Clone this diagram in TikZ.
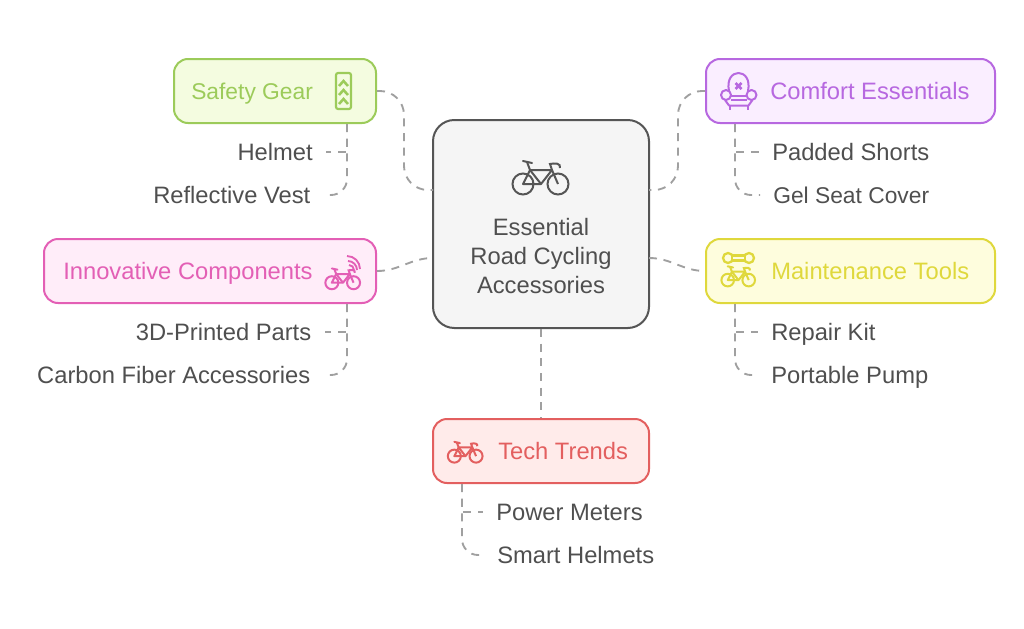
\documentclass[tikz,border=0pt]{standalone}
\usepackage{fontspec}
\setmainfont{Liberation Sans}
\usetikzlibrary{calc}

\definecolor{inktext}{HTML}{4F4F4F}
\definecolor{inkhub}{HTML}{555555}
\definecolor{linkgray}{HTML}{A0A0A0}
\definecolor{greenline}{HTML}{9CCB5A}
\definecolor{greenfill}{HTML}{F4FCE0}
\definecolor{purpleline}{HTML}{B768E0}
\definecolor{purplefill}{HTML}{FAEEFF}
\definecolor{pinkline}{HTML}{E35FB5}
\definecolor{pinkfill}{HTML}{FFEDF9}
\definecolor{yellowline}{HTML}{DFD83C}
\definecolor{yellowfill}{HTML}{FEFDDD}
\definecolor{redline}{HTML}{E35F5F}
\definecolor{redfill}{HTML}{FFEBEA}

\tikzset{
	x = 0.75pt, y = -0.75pt,
	txt/.style = {font = \fontsize{17.8}{21.4}\selectfont, text = inktext, inner sep = 0pt},
	oneline/.style = {txt, text height = 12.7pt, text depth = 0pt},
	leaf/.style = {oneline, inner xsep = 9.75pt, inner ysep = 0pt},
	tight/.style = {font = \fontsize{17.1}{21.4}\selectfont},
	box/.style = {draw, line width = 1.5pt, rounded corners = 10.5pt,
				  minimum height = 48pt, inner sep = 0pt},
	link/.style = {draw = linkgray, line width = 1.4pt, dash pattern = on 6pt off 5pt},
	bike/.pic = {
		\draw (-18,6) circle (10.5);
		\draw (17,6) circle (10.5);
		\draw[line join = round] (-18,6) -- (-11,-8) -- (11,-8) -- (0,6) -- cycle;
		\draw (-11,-8) -- (0,6);
		\draw (17,6) -- (11,-8) -- (9,-14) .. controls (14,-15) and (20,-15) .. (19,-10);
		\draw (-11,-8) -- (-14,-16);
		\draw[line cap = round] (-18,-17) -- (-9,-15);
	}
}

\begin{document}
\begin{tikzpicture}

	\useasboundingbox (0,0) rectangle (1024,628);

	\draw (541,224) node[box, draw = inkhub, fill = black!4,
					 minimum width = 162pt, minimum height = 156pt,
					 rounded corners = 16pt] (hub) {};
	\draw (541,256) node[txt, align = center] (hubtext)
			{Essential\\Road Cycling\\Accessories};
	\draw[inkhub, line width = 1.5pt] (541,178) pic {bike};

	\draw (275,91) node[box, draw = greenline, fill = greenfill,
					 minimum width = 151.5pt] (safety) {};
	\draw (191,91) node[oneline, tight, anchor = west, text = greenline] (safetytext) {Safety Gear};

	\draw (850.5,91) node[box, draw = purpleline, fill = purplefill,
					 minimum width = 216.75pt] (comfort) {};
	\draw (770,91) node[oneline, anchor = west, text = purpleline] (comforttext) {Comfort Essentials};

	\draw (210,271) node[box, draw = pinkline, fill = pinkfill,
					 minimum width = 249pt] (innovative) {};
	\draw (63,271) node[oneline, anchor = west, text = pinkline] (innovativetext) {Innovative Components};

	\draw (850.5,271) node[box, draw = yellowline, fill = yellowfill,
					 minimum width = 216.75pt] (maintenance) {};
	\draw (771,271) node[oneline, anchor = west, text = yellowline] (maintenancetext) {Maintenance Tools};

	\draw (541,451) node[box, draw = redline, fill = redfill,
					 minimum width = 162pt] (tech) {};
	\draw (498,451) node[oneline, anchor = west, text = redline] (techtext) {Tech Trends};

	% leaves
	\draw (326,152) node[leaf, anchor = east] (helmet) {Helmet};
	\draw (323.5,195) node[leaf, anchor = east] (vest) {Reflective Vest};
	\draw (759,152) node[leaf, anchor = west] (shorts) {Padded Shorts};
	\draw (760,195) node[leaf, tight, anchor = west] (seat) {Gel Seat Cover};
	\draw (324.5,332) node[leaf, anchor = east] (parts) {3D-Printed Parts};
	\draw (323.5,375) node[leaf, anchor = east] (carbon) {Carbon Fiber Accessories};
	\draw (758,332) node[leaf, anchor = west] (repair) {Repair Kit};
	\draw (758,375) node[leaf, anchor = west] (pump) {Portable Pump};
	\draw (483,512) node[leaf, anchor = west] (power) {Power Meters};
	\draw (484,555) node[leaf, anchor = west] (smart) {Smart Helmets};

	\coordinate (hubleftup) at (433,190);
	\coordinate (hubrightup) at (649,190);
	\coordinate (hubleftlow) at (433,258);
	\coordinate (hubrightlow) at (649,258);
	\coordinate (safetybend) at (404,140);
	\coordinate (comfortbend) at (678,140);
	\coordinate (safetyroot) at (347,124);
	\coordinate (comfortroot) at (735,124);
	\coordinate (innovativeroot) at (347,304);
	\coordinate (maintenanceroot) at (735,304);
	\coordinate (techroot) at (462,484);

	% hub to boxes
	\draw[link, rounded corners = 18pt] (safety.east) -| (safetybend) |- (hubleftup);
	\draw[link, rounded corners = 18pt] (comfort.west) -| (comfortbend) |- (hubrightup);
	\draw[link] (innovative.east) to[out = 0, in = 180] (hubleftlow);
	\draw[link] (hubrightlow) to[out = 0, in = 180] (maintenance.west);
	\draw[link] (hub.south) -- (tech.north);

	% boxes to leaves
	\draw[link] (safetyroot) |- (helmet.east);
	\draw[link, rounded corners = 12pt] (safetyroot) |- (vest.east);
	\draw[link] (comfortroot) |- (shorts.west);
	\draw[link, rounded corners = 12pt] (comfortroot) |- (seat.west);
	\draw[link] (innovativeroot) |- (parts.east);
	\draw[link, rounded corners = 12pt] (innovativeroot) |- (carbon.east);
	\draw[link] (maintenanceroot) |- (repair.west);
	\draw[link, rounded corners = 12pt] (maintenanceroot) |- (pump.west);
	\draw[link] (techroot) |- (power.west);
	\draw[link, rounded corners = 12pt] (techroot) |- (smart.west);

	% icons
	\draw[greenline, line width = 1.6pt, rounded corners = 1.5pt] (336,73) rectangle (351,109);
	\draw[greenline, line width = 1.9pt] (339,86) -- (343.5,81) -- (348,86);
	\draw[greenline, line width = 1.9pt] (339,95) -- (343.5,90) -- (348,95);
	\draw[greenline, line width = 1.9pt] (339,104) -- (343.5,99) -- (348,104);

	\begin{scope}[purpleline, line width = 1.5pt, line join = round]
		\draw (729,91) .. controls (724,67) and (753,67) .. (748,91);
		\draw (726,95) circle (5);
		\draw (751.5,95) circle (5);
		\draw (731,96) -- (746.5,96);
		\draw (731,100) -- (746.5,100);
		\draw (725,100) -- (729,105.5) -- (748.5,105.5) -- (752.5,100);
		\draw (729.5,105) -- (729.5,109.5);
		\draw (748,105) -- (748,109.5);
		\draw[line width = 2pt] (735.5,83) -- (741.5,89);
		\draw[line width = 2pt] (741.5,83) -- (735.5,89);
	\end{scope}

	\draw[pinkline, line width = 1.5pt] (343,279) pic[scale = 0.62] {bike};
	\draw[pinkline, line width = 1.4pt] (349,265) arc (-90:0:5);
	\draw[pinkline, line width = 1.4pt] (348,261) arc (-90:0:9);
	\draw[pinkline, line width = 1.4pt] (347,256) arc (-90:0:13);

	\draw[yellowline, line width = 1.5pt] (738.5,276.5) pic[scale = 0.6] {bike};
	\draw[yellowline, line width = 1.7pt] (728,258) circle (5);
	\draw[yellowline, line width = 1.7pt] (749,258) circle (5);
	\draw[yellowline, line width = 1.7pt, fill = yellowfill] (732,255.5) rectangle (745,260.5);

	\draw[redline, line width = 1.5pt] (465.5,452.4) pic[scale = 0.62] {bike};

\end{tikzpicture}
\end{document}
